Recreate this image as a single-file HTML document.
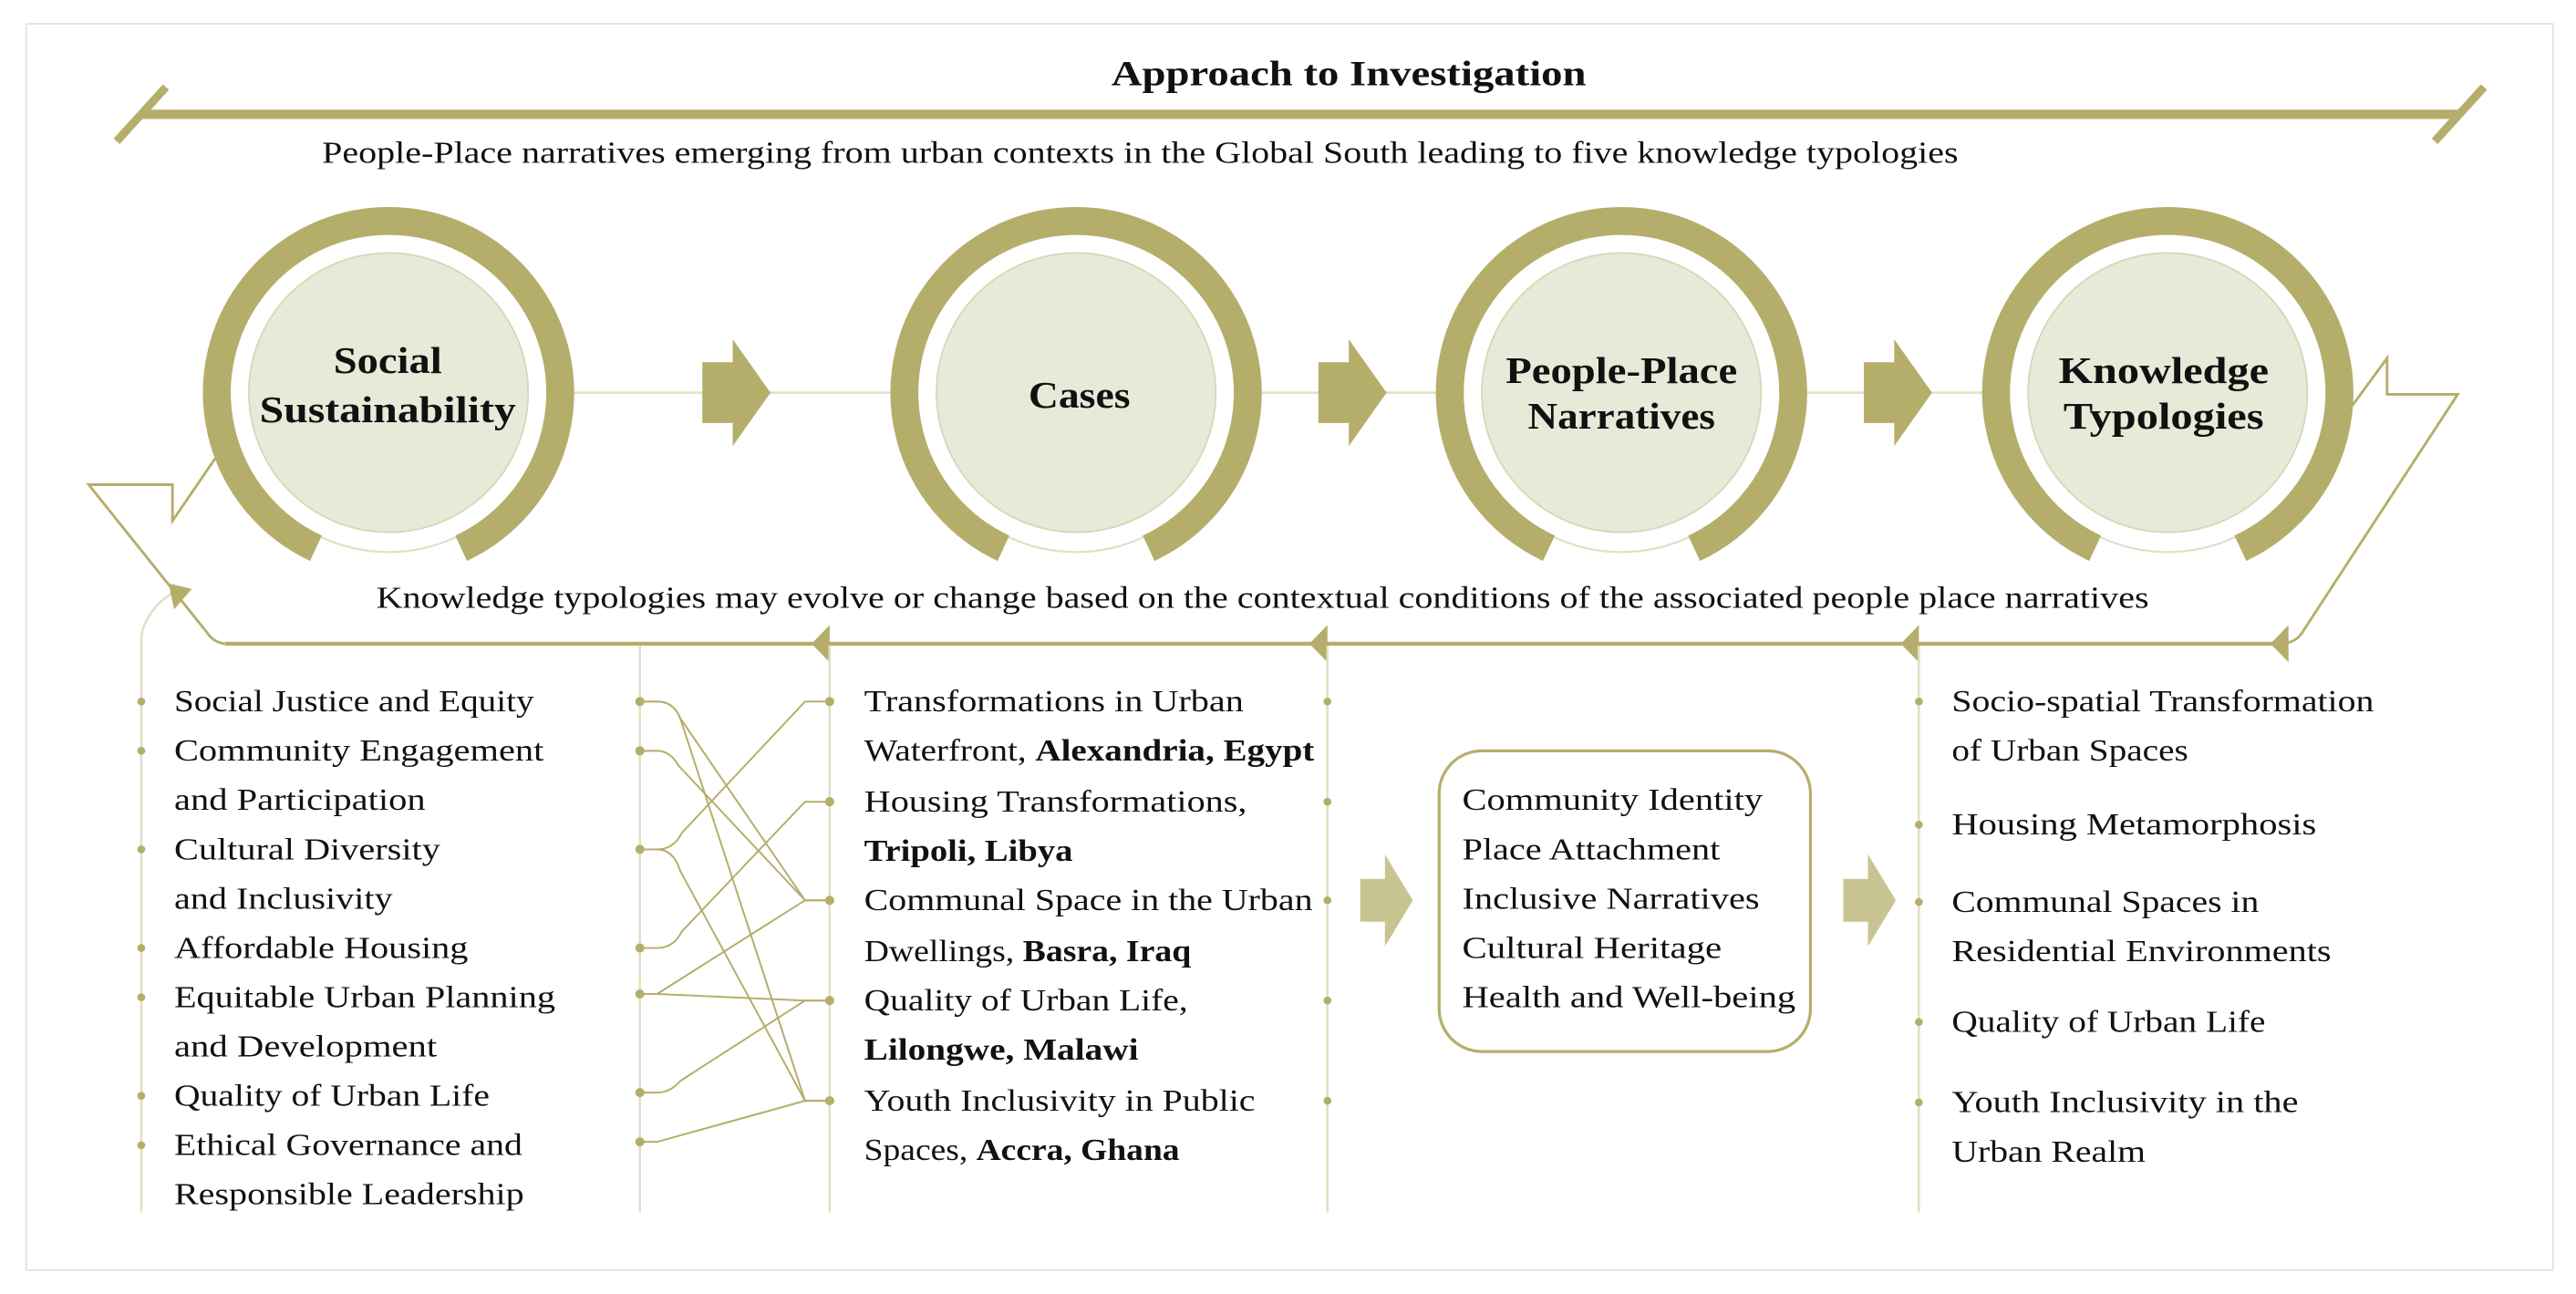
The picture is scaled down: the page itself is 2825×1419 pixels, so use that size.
<!DOCTYPE html>
<html><head><meta charset="utf-8"><style>
html,body{margin:0;padding:0;background:#fff;}
svg{display:block;}
text{font-family:"Liberation Serif",serif;fill:#111;}
.t{font-size:19px;}
.b{font-weight:bold;}
</style></head><body>
<svg width="2825" height="1419" viewBox="0 0 1568 787.6" xmlns="http://www.w3.org/2000/svg">
<rect x="16" y="14.5" width="1538" height="758.5" fill="#fff" stroke="#dcdcdc" stroke-width="0.8"/>
<!-- title bar -->
<text x="821" y="52" text-anchor="middle" class="b" font-size="22" textLength="289" lengthAdjust="spacingAndGlyphs">Approach to Investigation</text>
<line x1="86" y1="69.6" x2="1497" y2="69.6" stroke="#b5ae6b" stroke-width="5.7"/>
<line x1="71" y1="86" x2="101" y2="53" stroke="#b5ae6b" stroke-width="5"/>
<line x1="1482" y1="86" x2="1512" y2="53" stroke="#b5ae6b" stroke-width="5"/>
<text x="196" y="99" class="t" textLength="996" lengthAdjust="spacingAndGlyphs">People-Place narratives emerging from urban contexts in the Global South leading to five knowledge typologies</text>

<!-- connector line -->
<line x1="340" y1="239" x2="1320" y2="239" stroke="#e2e3cb" stroke-width="1.5"/>

<g fill="none">
  <g transform="translate(236.5,239)">
    <circle r="113" fill="#fff"/>
    <circle r="97" stroke="#dfe0c6" stroke-width="1.2"/>
    <path d="M-44.2,94.7 A104.5,104.5 0 1 1 44.2,94.7" stroke="#b5ae6b" stroke-width="17"/>
    <circle r="85" fill="#e8e9d8" stroke="#d6d8b6" stroke-width="1"/>
  </g>
  <g transform="translate(655,239)">
    <circle r="113" fill="#fff"/>
    <circle r="97" stroke="#dfe0c6" stroke-width="1.2"/>
    <path d="M-44.2,94.7 A104.5,104.5 0 1 1 44.2,94.7" stroke="#b5ae6b" stroke-width="17"/>
    <circle r="85" fill="#e8e9d8" stroke="#d6d8b6" stroke-width="1"/>
  </g>
  <g transform="translate(987,239)">
    <circle r="113" fill="#fff"/>
    <circle r="97" stroke="#dfe0c6" stroke-width="1.2"/>
    <path d="M-44.2,94.7 A104.5,104.5 0 1 1 44.2,94.7" stroke="#b5ae6b" stroke-width="17"/>
    <circle r="85" fill="#e8e9d8" stroke="#d6d8b6" stroke-width="1"/>
  </g>
  <g transform="translate(1319.5,239)">
    <circle r="113" fill="#fff"/>
    <circle r="97" stroke="#dfe0c6" stroke-width="1.2"/>
    <path d="M-44.2,94.7 A104.5,104.5 0 1 1 44.2,94.7" stroke="#b5ae6b" stroke-width="17"/>
    <circle r="85" fill="#e8e9d8" stroke="#d6d8b6" stroke-width="1"/>
  </g>
</g>
<g class="b" font-size="23" text-anchor="middle">
  <text x="236" y="227" textLength="66" lengthAdjust="spacingAndGlyphs">Social</text>
  <text x="236" y="257" textLength="156" lengthAdjust="spacingAndGlyphs">Sustainability</text>
  <text x="657" y="248" textLength="62" lengthAdjust="spacingAndGlyphs">Cases</text>
  <text x="987" y="233" textLength="141" lengthAdjust="spacingAndGlyphs">People-Place</text>
  <text x="987" y="261" textLength="114" lengthAdjust="spacingAndGlyphs">Narratives</text>
  <text x="1317" y="233" textLength="128" lengthAdjust="spacingAndGlyphs">Knowledge</text>
  <text x="1317" y="261" textLength="122" lengthAdjust="spacingAndGlyphs">Typologies</text>
</g>

<!-- block arrows -->
<g fill="#b5ae6b">
  <polygon points="427.5,220.5 446,220.5 446,206.5 469,239 446,271.5 446,257.5 427.5,257.5"/>
  <polygon points="802.5,220.5 821,220.5 821,206.5 844,239 821,271.5 821,257.5 802.5,257.5"/>
  <polygon points="1134.5,220.5 1153,220.5 1153,206.5 1176,239 1153,271.5 1153,257.5 1134.5,257.5"/>
</g>

<!-- feedback loop -->
<g fill="none" stroke="#b5ae6b" stroke-width="1.6">
  <polyline points="1431,248 1453,218 1453,240 1496,240 1402,384"/>
  <path d="M1402,384 Q1398,391 1390,391.5"/>
  <line x1="1390" y1="391.8" x2="137" y2="391.8" stroke-width="2.4"/>
  <path d="M137,391.8 Q130,391 126,385 L54,295 L105,295 L105,317 L131,279"/>
  <path d="M86,738 V390 Q86,378 98,366 L106,360" stroke="#dfe0c6" stroke-width="1.4"/>
</g>
<g fill="#b5ae6b">
  <polygon points="1382,391.8 1393,380.5 1393,403"/>
  <polygon points="1157,391.8 1168,380.5 1168,403"/>
  <polygon points="797,391.8 808,380.5 808,403"/>
  <polygon points="494,391.8 505,380.5 505,403"/>
  <polygon points="102.6,355 116.7,358.5 106,371"/>
</g>
<text x="229" y="370" class="t" textLength="1079" lengthAdjust="spacingAndGlyphs">Knowledge typologies may evolve or change based on the contextual conditions of the associated people place narratives</text>

<!-- column lines -->
<g stroke="#dfe0c6" stroke-width="1.4">
  <line x1="389.5" y1="393" x2="389.5" y2="738"/>
  <line x1="505" y1="393" x2="505" y2="738"/>
  <line x1="808" y1="393" x2="808" y2="738"/>
  <line x1="1168" y1="393" x2="1168" y2="738"/>
</g>
<!-- dots -->
<g fill="#b5ae6b">
  <circle cx="86" cy="427" r="2.4"/><circle cx="86" cy="457" r="2.4"/><circle cx="86" cy="517" r="2.4"/><circle cx="86" cy="577" r="2.4"/><circle cx="86" cy="607" r="2.4"/><circle cx="86" cy="667" r="2.4"/><circle cx="86" cy="697" r="2.4"/>
  <circle cx="389.5" cy="427" r="2.8"/><circle cx="389.5" cy="457" r="2.8"/><circle cx="389.5" cy="517" r="2.8"/><circle cx="389.5" cy="577" r="2.8"/><circle cx="389.5" cy="605" r="2.8"/><circle cx="389.5" cy="665" r="2.8"/><circle cx="389.5" cy="695" r="2.8"/>
  <circle cx="505" cy="427" r="2.8"/><circle cx="505" cy="488" r="2.8"/><circle cx="505" cy="548" r="2.8"/><circle cx="505" cy="609" r="2.8"/><circle cx="505" cy="670" r="2.8"/>
  <circle cx="808" cy="427" r="2.4"/><circle cx="808" cy="488" r="2.4"/><circle cx="808" cy="548" r="2.4"/><circle cx="808" cy="609" r="2.4"/><circle cx="808" cy="670" r="2.4"/>
  <circle cx="1168" cy="427" r="2.4"/><circle cx="1168" cy="502" r="2.4"/><circle cx="1168" cy="549" r="2.4"/><circle cx="1168" cy="622" r="2.4"/><circle cx="1168" cy="671" r="2.4"/>
</g>
<!-- connectors -->
<g fill="none" stroke="#b5ae6b" stroke-width="1.1">
  <path d="M389.5,427 H400 Q410,427 414,437 L490,548 H505"/>
  <path d="M389.5,427 H400 Q410,427 414,437 L490,670 H505"/>
  <path d="M389.5,457 H400 Q408,457 413,466 L490,548 H505"/>
  <path d="M389.5,517 H400 Q410,517 415,507 L490,427 H505"/>
  <path d="M389.5,517 H400 Q410,517 414,530 L490,670 H505"/>
  <path d="M389.5,577 H400 Q410,577 415,567 L490,488 H505"/>
  <path d="M389.5,605 H400 L490,548 H505"/>
  <path d="M389.5,605 H400 L490,609 H505"/>
  <path d="M389.5,665 H400 Q408,665 414,658 L490,609 H505"/>
  <path d="M389.5,695 H400 L490,670 H505"/>
</g>

<!-- left list -->
<g class="t">
  <text x="106" y="433" textLength="219" lengthAdjust="spacingAndGlyphs">Social Justice and Equity</text>
  <text x="106" y="463" textLength="225" lengthAdjust="spacingAndGlyphs">Community Engagement</text>
  <text x="106" y="493" textLength="153" lengthAdjust="spacingAndGlyphs">and Participation</text>
  <text x="106" y="523" textLength="162" lengthAdjust="spacingAndGlyphs">Cultural Diversity</text>
  <text x="106" y="553" textLength="133" lengthAdjust="spacingAndGlyphs">and Inclusivity</text>
  <text x="106" y="583" textLength="179" lengthAdjust="spacingAndGlyphs">Affordable Housing</text>
  <text x="106" y="613" textLength="232" lengthAdjust="spacingAndGlyphs">Equitable Urban Planning</text>
  <text x="106" y="643" textLength="160" lengthAdjust="spacingAndGlyphs">and Development</text>
  <text x="106" y="673" textLength="192" lengthAdjust="spacingAndGlyphs">Quality of Urban Life</text>
  <text x="106" y="703" textLength="212" lengthAdjust="spacingAndGlyphs">Ethical Governance and</text>
  <text x="106" y="733" textLength="213" lengthAdjust="spacingAndGlyphs">Responsible Leadership</text>
</g>
<!-- middle list -->
<g class="t">
  <text x="526" y="433" textLength="231" lengthAdjust="spacingAndGlyphs">Transformations in Urban</text>
  <text x="526" y="463" textLength="274" lengthAdjust="spacingAndGlyphs">Waterfront, <tspan class="b">Alexandria, Egypt</tspan></text>
  <text x="526" y="494" textLength="233" lengthAdjust="spacingAndGlyphs">Housing Transformations,</text>
  <text x="526" y="524" class="b" textLength="127" lengthAdjust="spacingAndGlyphs">Tripoli, Libya</text>
  <text x="526" y="554" textLength="273" lengthAdjust="spacingAndGlyphs">Communal Space in the Urban</text>
  <text x="526" y="585" textLength="199" lengthAdjust="spacingAndGlyphs">Dwellings, <tspan class="b">Basra, Iraq</tspan></text>
  <text x="526" y="615" textLength="197" lengthAdjust="spacingAndGlyphs">Quality of Urban Life,</text>
  <text x="526" y="645" class="b" textLength="167" lengthAdjust="spacingAndGlyphs">Lilongwe, Malawi</text>
  <text x="526" y="676" textLength="238" lengthAdjust="spacingAndGlyphs">Youth Inclusivity in Public</text>
  <text x="526" y="706" textLength="192" lengthAdjust="spacingAndGlyphs">Spaces, <tspan class="b">Accra, Ghana</tspan></text>
</g>
<!-- light arrows -->
<g fill="#c8c491">
  <polygon points="828,535 843,535 843,520 860,548 843,576 843,561 828,561"/>
  <polygon points="1122,535 1137,535 1137,520 1154,548 1137,576 1137,561 1122,561"/>
</g>
<!-- box -->
<rect x="876" y="457" width="226" height="183" rx="26" fill="#fff" stroke="#b5ae6b" stroke-width="1.8"/>
<g class="t">
  <text x="890" y="493" textLength="183" lengthAdjust="spacingAndGlyphs">Community Identity</text>
  <text x="890" y="523" textLength="157" lengthAdjust="spacingAndGlyphs">Place Attachment</text>
  <text x="890" y="553" textLength="181" lengthAdjust="spacingAndGlyphs">Inclusive Narratives</text>
  <text x="890" y="583" textLength="158" lengthAdjust="spacingAndGlyphs">Cultural Heritage</text>
  <text x="890" y="613" textLength="203" lengthAdjust="spacingAndGlyphs">Health and Well-being</text>
</g>
<!-- right list -->
<g class="t">
  <text x="1188" y="433" textLength="257" lengthAdjust="spacingAndGlyphs">Socio-spatial Transformation</text>
  <text x="1188" y="463" textLength="144" lengthAdjust="spacingAndGlyphs">of Urban Spaces</text>
  <text x="1188" y="508" textLength="222" lengthAdjust="spacingAndGlyphs">Housing Metamorphosis</text>
  <text x="1188" y="555" textLength="187" lengthAdjust="spacingAndGlyphs">Communal Spaces in</text>
  <text x="1188" y="585" textLength="231" lengthAdjust="spacingAndGlyphs">Residential Environments</text>
  <text x="1188" y="628" textLength="191" lengthAdjust="spacingAndGlyphs">Quality of Urban Life</text>
  <text x="1188" y="677" textLength="211" lengthAdjust="spacingAndGlyphs">Youth Inclusivity in the</text>
  <text x="1188" y="707" textLength="118" lengthAdjust="spacingAndGlyphs">Urban Realm</text>
</g>
</svg>
</body></html>
